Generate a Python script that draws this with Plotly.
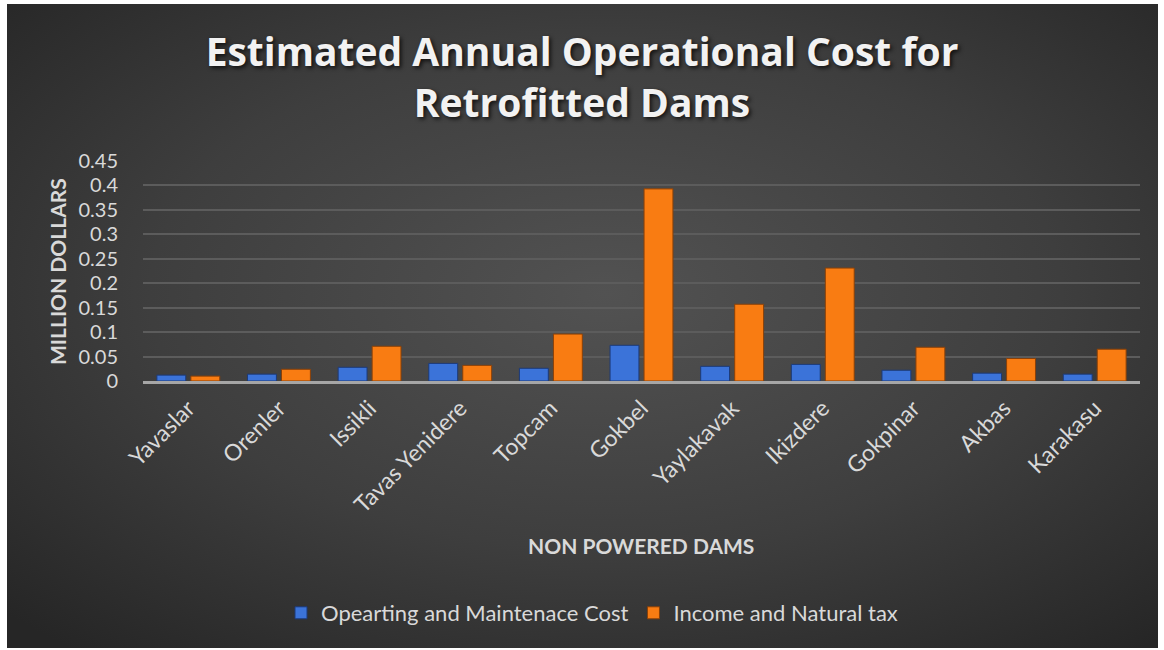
import base64
import plotly.graph_objects as go

dams = ["Yavaslar", "Orenler", "Issikli", "Tavas Yenidere", "Topcam", "Gokbel",
        "Yaylakavak", "Ikizdere", "Gokpinar", "Akbas", "Karakasu"]
om_cost = [0.012, 0.014, 0.028, 0.036, 0.026, 0.073, 0.030, 0.034, 0.022, 0.016, 0.014]
income_tax = [0.010, 0.024, 0.071, 0.032, 0.096, 0.393, 0.157, 0.231, 0.069, 0.046, 0.065]
series_names = ["Opearting and Maintenace Cost", "Income and Natural tax"]

W, H = 1164, 650
L, R, T, B = 143, 24, 161, 269
PW, PH = W - L - R, H - T - B

FONT = "Lato, 'Open Sans', sans-serif"
TITLE_FONT = "'Open Sans', Lato, sans-serif"
TXT = "#d9d9d9"

svg = ("<svg xmlns='http://www.w3.org/2000/svg' width='1151' height='644' viewBox='0 0 1151 644' "
       "preserveAspectRatio='none'><defs><radialGradient id='g' cx='52%' cy='45%' r='72%'>"
       "<stop offset='0' stop-color='#525252'/><stop offset='0.55' stop-color='#3e3e3e'/>"
       "<stop offset='1' stop-color='#262626'/></radialGradient></defs>"
       "<rect width='1151' height='644' fill='url(#g)'/></svg>")
bg_uri = "data:image/svg+xml;base64," + base64.b64encode(svg.encode()).decode()

def px_x(p):
    return (p - L) / PW

def px_y(p):
    return (H - B - p) / PH

fig = go.Figure()
fig.add_trace(go.Bar(x=dams, y=om_cost, name=series_names[0],
                     marker=dict(color="#3b73d9", line=dict(color="#1c3a78", width=1))))
fig.add_trace(go.Bar(x=dams, y=income_tax, name=series_names[1],
                     marker=dict(color="#f97c12", line=dict(color="#8a4008", width=1))))

fig.update_layout(
    width=W, height=H,
    margin=dict(l=L, r=R, t=T, b=B, pad=0),
    paper_bgcolor="white",
    plot_bgcolor="rgba(0,0,0,0)",
    barmode="group", bargap=0.25, bargroupgap=0.15,
    font=dict(family=FONT, color=TXT),
    title=dict(text="Estimated Annual Operational Cost for<br>Retrofitted Dams",
               x=0.5, xref="container", xanchor="center",
               y=1 - 66 / H, yref="container", yanchor="middle",
               font=dict(family=TITLE_FONT, size=39, color="#f2f2f2", weight="bold",
                         shadow="2px 2px 4px rgba(0,0,0,0.75)")),
    xaxis=dict(showgrid=False, showline=True, linecolor="#a6a6a6", linewidth=2.5,
               tickangle=-45, tickfont=dict(size=23, color=TXT), ticks="",
               ticklabelstandoff=2),
    yaxis=dict(range=[0, 0.45], dtick=0.05, showgrid=True, gridcolor="#5c5c5c",
               gridwidth=1.5, zeroline=False, showline=False, ticks="",
               tickfont=dict(size=20, color=TXT), ticklabelstandoff=24),
    legend=dict(orientation="h", x=px_x(592), xanchor="center", y=px_y(613), yanchor="middle",
                font=dict(size=22, color=TXT), bgcolor="rgba(0,0,0,0)", traceorder="normal",
                itemwidth=30, tracegroupgap=0),
    images=[dict(source=bg_uri, xref="paper", yref="paper",
                 x=px_x(7), y=px_y(4), sizex=1151 / PW, sizey=644 / PH,
                 xanchor="left", yanchor="top", sizing="stretch", layer="below")],
    annotations=[
        dict(text="NON POWERED DAMS", x=px_x(641), y=px_y(545), xref="paper", yref="paper",
             showarrow=False, xanchor="center", yanchor="middle",
             font=dict(family=FONT, size=21, color=TXT, weight="bold")),
        dict(text="MILLION DOLLARS", x=px_x(57), y=px_y(272), xref="paper", yref="paper",
             showarrow=False, textangle=-90, xanchor="center", yanchor="middle",
             font=dict(family=FONT, size=21, color=TXT, weight="bold")),
    ],
)

fig.write_html("out.html")
